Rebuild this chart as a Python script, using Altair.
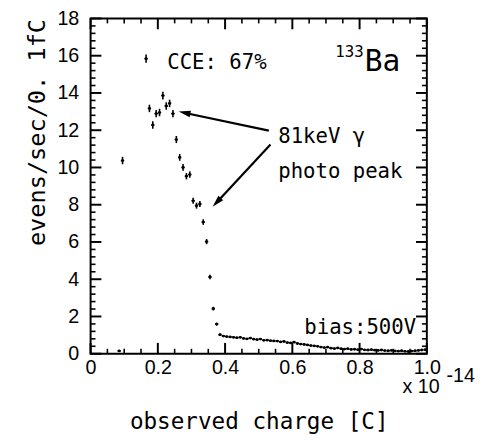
import math
import altair as alt
import pandas as pd

# ---------------- data ----------------
# bin centres (x 10^-14 C), rate (evens/sec/0.1fC), error
peak_x = [0.085, 0.095, 0.165, 0.175, 0.185, 0.195, 0.205, 0.215, 0.225, 0.235,
          0.245, 0.255, 0.265, 0.275, 0.285, 0.295, 0.305, 0.315, 0.325, 0.335,
          0.345, 0.355, 0.365, 0.375, 0.385]
peak_y = [0.15, 10.37, 15.84, 13.17, 12.28, 12.89, 12.95, 13.86, 13.30, 13.44,
          12.89, 11.50, 10.54, 10.00, 9.53, 9.62, 8.21, 7.95, 8.04, 7.07,
          6.02, 4.12, 2.42, 1.59, 1.02]
peak_err = [0.05, 0.20, 0.22, 0.20, 0.20, 0.20, 0.20, 0.21, 0.20, 0.20,
            0.20, 0.19, 0.18, 0.18, 0.17, 0.17, 0.16, 0.16, 0.16, 0.15,
            0.14, 0.12, 0.10, 0.08, 0.07]

tail_x = [0.395, 0.405, 0.415, 0.425, 0.435, 0.445, 0.455, 0.465, 0.475, 0.485,
          0.495, 0.505, 0.515, 0.525, 0.535, 0.545, 0.555, 0.565, 0.575, 0.585,
          0.595, 0.605, 0.615, 0.625, 0.635, 0.645, 0.655, 0.665, 0.675, 0.685,
          0.695, 0.705, 0.715, 0.725, 0.735, 0.745, 0.755, 0.765, 0.775, 0.785,
          0.795, 0.805, 0.815, 0.825, 0.835, 0.845, 0.855, 0.865, 0.875, 0.885,
          0.895, 0.905, 0.915, 0.925, 0.935, 0.945, 0.955, 0.965, 0.975, 0.985,
          0.995]
tail_y = [0.95, 0.92, 0.90, 0.88, 0.86, 0.88, 0.82, 0.80, 0.84, 0.78,
          0.76, 0.79, 0.72, 0.73, 0.70, 0.69, 0.68, 0.64, 0.66, 0.60,
          0.58, 0.62, 0.55, 0.52, 0.50, 0.47, 0.44, 0.42, 0.40, 0.36,
          0.33, 0.35, 0.30, 0.28, 0.31, 0.27, 0.25, 0.27, 0.23, 0.24,
          0.22, 0.25, 0.21, 0.20, 0.22, 0.19, 0.18, 0.20, 0.17, 0.16,
          0.18, 0.15, 0.14, 0.16, 0.13, 0.12, 0.14, 0.16, 0.18, 0.20,
          0.22]
tail_err = 0.04
bin_width = 0.01

x_major = [0, 0.2, 0.4, 0.6, 0.8, 1.0]
x_minor = [0.05, 0.1, 0.15, 0.25, 0.3, 0.35, 0.45, 0.5, 0.55, 0.65, 0.7, 0.75,
           0.85, 0.9, 0.95]
y_major = [0, 2, 4, 6, 8, 10, 12, 14, 16, 18]
y_minor = [round(i * 0.4, 1) for i in range(46) if i % 5]

# annotations (data coordinates)
ann_mid = pd.DataFrame({
    "x": [0.228, 0.558, 0.558],
    "y": [15.26, 11.32, 9.42],
    "t": ["CCE: 67%", "81keV γ", "photo peak"],
})
ann_bias = pd.DataFrame({"x": [0.968], "y": [1.05], "t": ["bias:500V"]})
ann_ba = pd.DataFrame({"x": [0.815], "y": [15.16], "t": ["Ba"]})
ann_iso = pd.DataFrame({"x": [0.812], "y": [15.95], "t": ["133"]})

arrow_start_x = [0.530, 0.535]
arrow_start_y = [11.98, 11.23]
arrow_tip_x = [0.262, 0.363]
arrow_tip_y = [13.00, 7.89]

# ---------------- layout ----------------
W, H = 342, 341
XMAX, YMAX = 1.0, 18.0
pxx, pxy = W / XMAX, H / YMAX
MAJ, MIN = 11, 5   # tick lengths, px

df = pd.DataFrame({
    "x": peak_x + tail_x,
    "y": peak_y + tail_y,
    "e": peak_err + [tail_err] * len(tail_x),
})
df["x0"] = df["x"] - bin_width / 2
df["x1"] = df["x"] + bin_width / 2
df["lo"] = (df["y"] - df["e"]).clip(lower=0)
df["hi"] = df["y"] + df["e"]

# inward tick segments on all four sides, in data units
seg = []
for vals, ln, kind in ((x_major, MAJ, "major"), (x_minor, MIN, "minor")):
    d = ln / pxy
    for v in vals:
        seg.append({"a": float(v), "a2": float(v), "b": 0.0, "b2": d, "k": kind})
        seg.append({"a": float(v), "a2": float(v), "b": YMAX, "b2": YMAX - d, "k": kind})
for vals, ln, kind in ((y_major, MAJ, "major"), (y_minor, MIN, "minor")):
    d = ln / pxx
    for v in vals:
        seg.append({"a": 0.0, "a2": d, "b": float(v), "b2": float(v), "k": kind})
        seg.append({"a": XMAX, "a2": XMAX - d, "b": float(v), "b2": float(v), "k": kind})
ticks_df = pd.DataFrame(seg)

rows = []
for sx, sy, tx, ty in zip(arrow_start_x, arrow_start_y, arrow_tip_x, arrow_tip_y):
    dx = (tx - sx) * pxx
    dy = -(ty - sy) * pxy
    L = math.hypot(dx, dy)
    back = 8.0
    ex = tx - (dx / L) * back / pxx
    ey = ty + (dy / L) * back / pxy
    ang = math.degrees(math.atan2(dx, -dy)) % 360
    rows.append({"sx": sx, "sy": sy, "ex": ex, "ey": ey, "tx": tx, "ty": ty, "ang": ang})
arrows = pd.DataFrame(rows)

MONO = "DejaVu Sans Mono"
SANS = "Liberation Sans"

xs = alt.Scale(domain=[0, XMAX], nice=False, zero=False)
ys = alt.Scale(domain=[0, YMAX], nice=False, zero=False)

XA = alt.Axis(values=x_major, orient="bottom",
              labelExpr="datum.value == 0 ? '0' : format(datum.value, '.1f')",
              title="observed charge [C]", titleFont=MONO, titleFontSize=23,
              titleFontWeight="normal", titleColor="black",
              titleX=171, titleY=76, titleAlign="center", titleBaseline="alphabetic",
              labelFont=SANS, labelFontSize=20, labelColor="black", labelPadding=4,
              labelFlush=False, labelOverlap=False,
              ticks=False, domain=False, grid=False)
YA = alt.Axis(values=y_major, format="d", orient="left",
              title="evens/sec/0. 1fC", titleFont=MONO, titleFontSize=24,
              titleFontWeight="normal", titleColor="black", titleAngle=270,
              titleAlign="right", titleBaseline="alphabetic", titleX=-47, titleY=0,
              labelFont=SANS, labelFontSize=20, labelColor="black", labelPadding=12,
              labelFlush=False, labelOverlap=False,
              ticks=False, domain=False, grid=False)


def X(f, axis=None):
    if axis is None:
        return alt.X(f, type="quantitative", scale=xs, axis=None)
    return alt.X(f, type="quantitative", scale=xs, axis=axis)


def Y(f, axis=None):
    if axis is None:
        return alt.Y(f, type="quantitative", scale=ys, axis=None)
    return alt.Y(f, type="quantitative", scale=ys, axis=axis)


hbar = alt.Chart(df).mark_rule(color="black", strokeWidth=1.6).encode(
    x=X("x0", XA), x2="x1", y=Y("y", YA))
vbar = alt.Chart(df).mark_rule(color="black", strokeWidth=1.6).encode(
    x=X("x"), y=Y("lo"), y2="hi")
dots = alt.Chart(df).mark_point(filled=True, color="black", size=8, opacity=1).encode(
    x=X("x"), y=Y("y"))

tick_marks = alt.Chart(ticks_df).mark_rule(color="black").encode(
    x=X("a"), x2="a2", y=Y("b"), y2="b2",
    strokeWidth=alt.StrokeWidth("k:N", scale=alt.Scale(domain=["major", "minor"],
                                                       range=[2.0, 1.6]),
                                legend=None))

arrow_lines = alt.Chart(arrows).mark_rule(color="black", strokeWidth=2.2).encode(
    x=X("sx"), y=Y("sy"), x2="ex", y2="ey")
arrow_heads = alt.Chart(arrows).mark_point(
    shape="M0,0L0.6,2.2L-0.6,2.2Z", filled=True, color="black", size=121, opacity=1
).encode(x=X("tx"), y=Y("ty"), angle=alt.Angle("ang:Q", scale=None))

t_mid = alt.Chart(ann_mid).mark_text(font=MONO, fontSize=21, align="left",
                                     baseline="alphabetic", color="black").encode(
    x=X("x"), y=Y("y"), text="t:N")
t_bias = alt.Chart(ann_bias).mark_text(font=MONO, fontSize=21, align="right",
                                       baseline="alphabetic", color="black").encode(
    x=X("x"), y=Y("y"), text="t:N")
t_ba = alt.Chart(ann_ba).mark_text(font=MONO, fontSize=30, align="left",
                                   baseline="alphabetic", color="black").encode(
    x=X("x"), y=Y("y"), text="t:N")
t_iso = alt.Chart(ann_iso).mark_text(font=MONO, fontSize=16, align="right",
                                     baseline="alphabetic", color="black").encode(
    x=X("x"), y=Y("y"), text="t:N")

mult = pd.DataFrame({"t": ["x 10"]})
expo = pd.DataFrame({"t": ["-14"]})
t_mult = alt.Chart(mult).mark_text(font=SANS, fontSize=20, align="right",
                                   baseline="alphabetic", color="black").encode(
    x=alt.value(W + 13), y=alt.value(H + 40), text="t:N")
t_expo = alt.Chart(expo).mark_text(font=SANS, fontSize=20, align="left",
                                   baseline="alphabetic", color="black").encode(
    x=alt.value(W + 20), y=alt.value(H + 29), text="t:N")

chart = alt.layer(
    hbar, vbar, dots, tick_marks, arrow_lines, arrow_heads,
    t_mid, t_bias, t_ba, t_iso, t_mult, t_expo
).resolve_axis(x="independent", y="independent").properties(
    width=W, height=H,
    autosize=alt.AutoSizeParams(type="none"),
    padding={"left": 84, "top": 7, "right": 50, "bottom": 78},
    background="white",
).configure_view(stroke="black", strokeWidth=2)

chart.save("out.html", embed_options={"renderer": "svg", "actions": False})
